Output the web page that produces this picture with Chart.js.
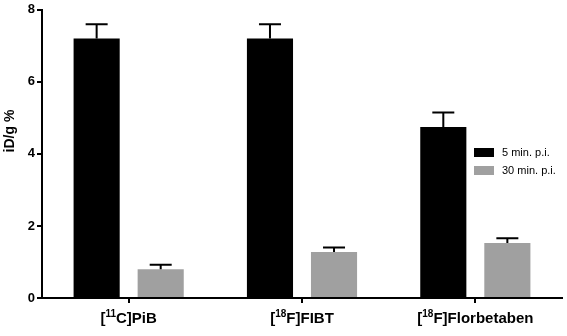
<!DOCTYPE html>
<html>
<head>
<meta charset="utf-8">
<script src="https://cdn.jsdelivr.net/npm/chart.js@4/dist/chart.umd.min.js"></script>
<style>
  html, body { margin: 0; padding: 0; background: #fff; }
  #wrap { width: 567px; height: 336px; position: relative; }
</style>
</head>
<body>
<div id="wrap"><canvas id="uptake"></canvas></div>
<script>
// tracer names: superscript isotope mass + rest of the name
const isotopes = ['11', '18', '18'];
const tracerNames = ['C]PiB', 'F]FIBT', 'F]Florbetaben'];
const categories = ['[11C]PiB', '[18F]FIBT', '[18F]Florbetaben'];

const seriesLabels = ['5 min. p.i.', '30 min. p.i.'];
const early = [7.2, 7.2, 4.75];     // 5 min p.i.
const earlyErr = [0.4, 0.4, 0.4];
const late = [0.8, 1.28, 1.53];     // 30 min p.i.
const lateErr = [0.12, 0.12, 0.13];

const yTicks = [0, 2, 4, 6, 8];
const yTitle = 'iD/g %';

const errors = [earlyErr, lateErr];
const FONT = '"Liberation Sans", Arial, sans-serif';

// upper error bars (stem + cap)
const errorBars = {
  id: 'errorBars',
  afterDatasetsDraw(chart) {
    const ctx = chart.ctx;
    const y = chart.scales.y;
    ctx.save();
    ctx.strokeStyle = '#000';
    ctx.lineWidth = 2;
    chart.data.datasets.forEach((ds, i) => {
      const meta = chart.getDatasetMeta(i);
      meta.data.forEach((bar, j) => {
        const top = y.getPixelForValue(ds.data[j] + errors[i][j]);
        ctx.beginPath();
        ctx.moveTo(bar.x, bar.y);
        ctx.lineTo(bar.x, top);
        ctx.moveTo(bar.x - 11, top);
        ctx.lineTo(bar.x + 11, top);
        ctx.stroke();
      });
    });
    ctx.restore();
  }
};

// category labels with superscript isotope numbers, plus y title
const axisText = {
  id: 'axisText',
  afterDraw(chart) {
    const ctx = chart.ctx;
    const x = chart.scales.x;
    const big = 'bold 15px ' + FONT;
    const small = 'bold 10px ' + FONT;
    const base = 323;
    ctx.save();
    ctx.fillStyle = '#000';
    ctx.textBaseline = 'alphabetic';
    ctx.textAlign = 'left';
    categories.forEach((c, i) => {
      ctx.font = big;
      const wB = ctx.measureText('[').width;
      const wN = ctx.measureText(tracerNames[i]).width;
      ctx.font = small;
      const wS = ctx.measureText(isotopes[i]).width;
      let cx = x.getPixelForTick(i) - (wB + wS + wN) / 2;
      ctx.font = big;
      ctx.fillText('[', cx, base);
      cx += wB;
      ctx.font = small;
      ctx.fillText(isotopes[i], cx, base - 6);
      cx += wS;
      ctx.font = big;
      ctx.fillText(tracerNames[i], cx, base);
    });
    // rotated y title
    ctx.translate(10, 131);
    ctx.rotate(-Math.PI / 2);
    ctx.font = 'bold 14px ' + FONT;
    ctx.textAlign = 'center';
    ctx.textBaseline = 'middle';
    ctx.fillText(yTitle, 0, 0);
    ctx.restore();
  }
};

// legend floating inside the plot area
const boxLegend = {
  id: 'boxLegend',
  afterDraw(chart) {
    const ctx = chart.ctx;
    ctx.save();
    ctx.font = '11px ' + FONT;
    ctx.textBaseline = 'middle';
    chart.data.datasets.forEach((ds, i) => {
      const cy = 152.5 + i * 18;
      ctx.fillStyle = ds.backgroundColor;
      ctx.fillRect(474, cy - 4.5, 20, 9);
      ctx.fillStyle = '#000';
      ctx.fillText(ds.label, 502, cy);
    });
    ctx.restore();
  }
};

new Chart(document.getElementById('uptake'), {
  type: 'bar',
  data: {
    labels: categories,
    datasets: [
      { label: seriesLabels[0], data: early, backgroundColor: '#000000' },
      { label: seriesLabels[1], data: late, backgroundColor: '#a0a0a0' }
    ]
  },
  options: {
    responsive: true,
    maintainAspectRatio: false,
    animation: false,
    layout: { padding: { top: 5, right: 5, left: 0, bottom: 0 } },
    datasets: { bar: { barPercentage: 0.72, categoryPercentage: 0.739 } },
    plugins: { legend: { display: false }, tooltip: { enabled: false } },
    scales: {
      x: {
        grid: { display: true, drawOnChartArea: false, offset: false, tickLength: 5, color: '#000', lineWidth: 2 },
        border: { color: '#000', width: 2 },
        ticks: { display: false },
        afterFit(s) { s.height = 38; }
      },
      y: {
        min: 0,
        max: 8,
        afterBuildTicks(s) { s.ticks = yTicks.map(v => ({ value: v })); },
        grid: { display: true, drawOnChartArea: false, tickLength: 5, color: '#000', lineWidth: 2 },
        border: { color: '#000', width: 2 },
        ticks: {
          color: '#000',
          padding: 2,
          font: { family: FONT, size: 13, weight: 'bold' }
        },
        afterFit(s) { s.width = 42; }
      }
    }
  },
  plugins: [errorBars, axisText, boxLegend]
});
</script>
</body>
</html>
